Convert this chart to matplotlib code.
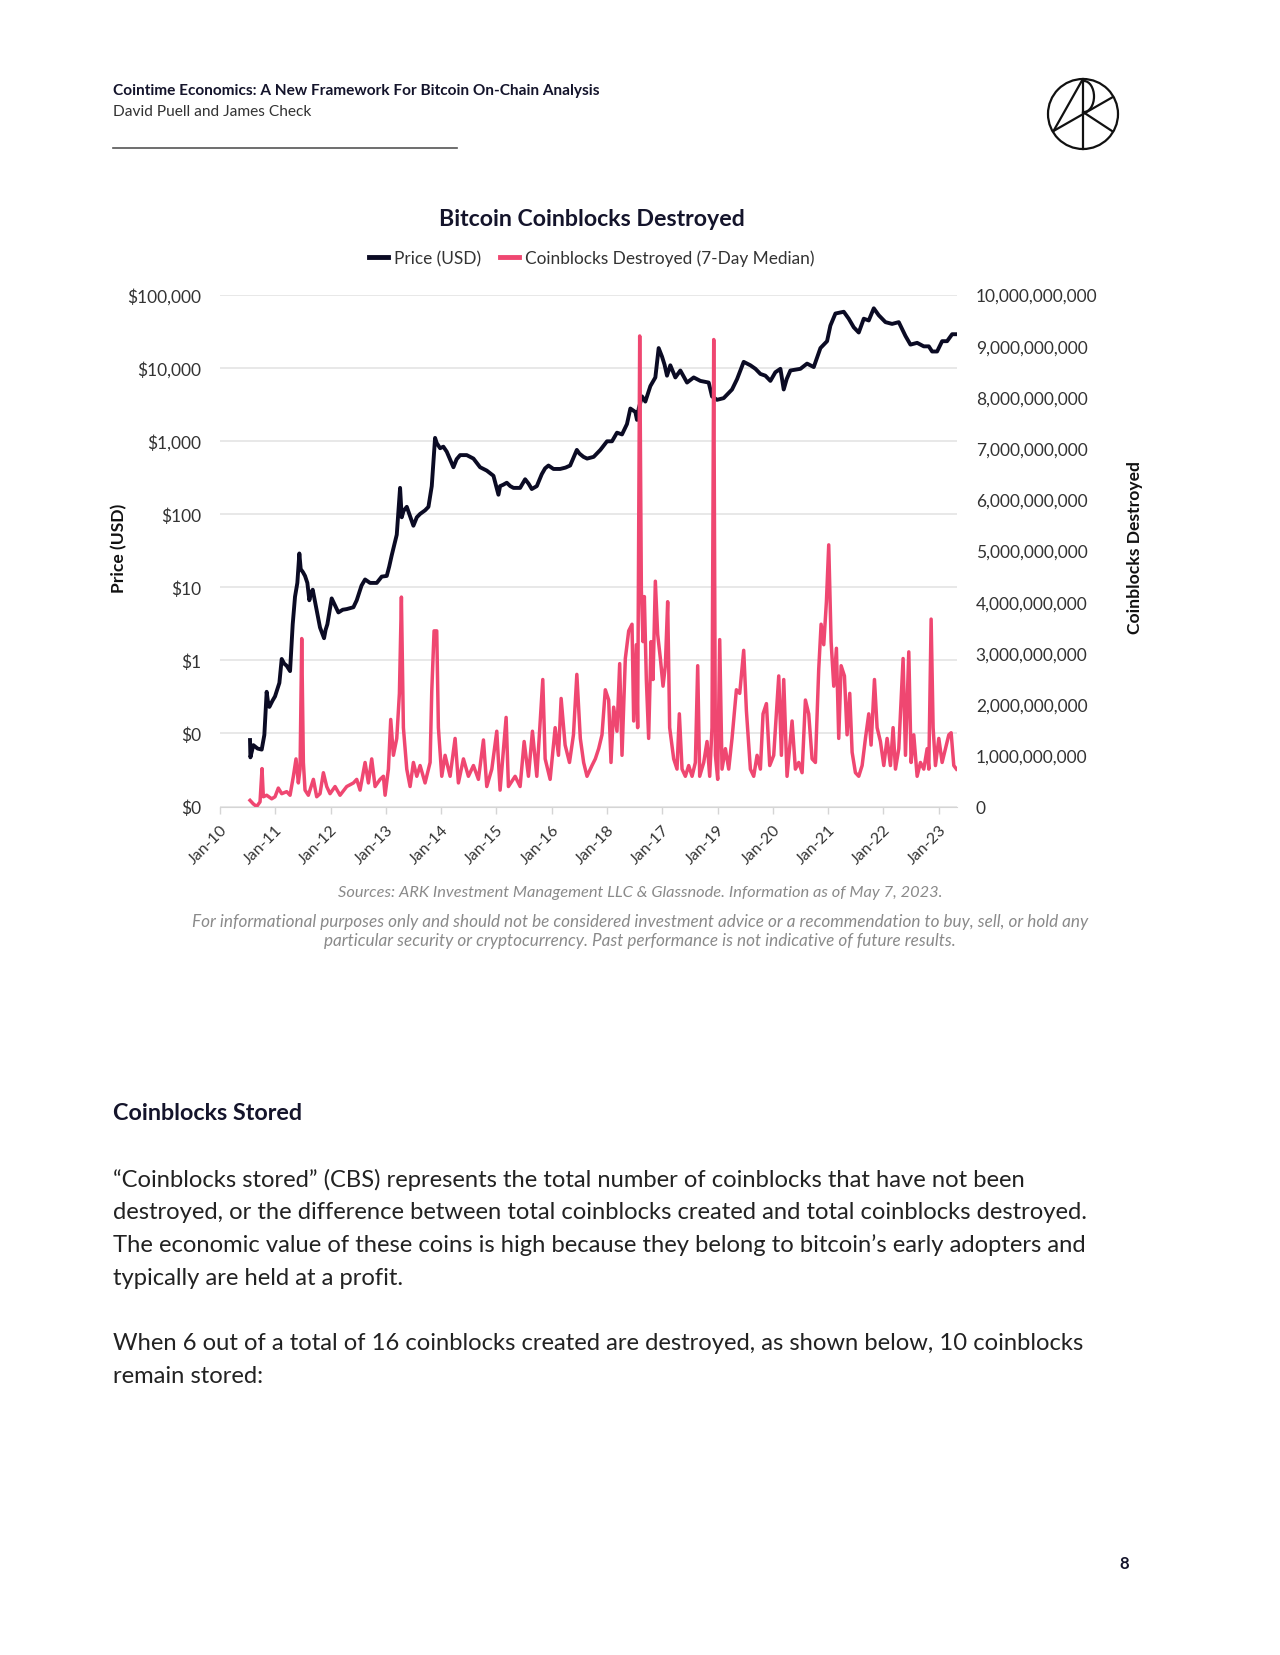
import matplotlib
matplotlib.use("Agg")
import matplotlib.pyplot as plt
from matplotlib.lines import Line2D
from matplotlib.patches import Circle, Arc

plt.rcParams['font.family'] = ['Lato', 'DejaVu Sans']

# --- data ---
price_year = [2010.543, 2010.550, 2010.603, 2010.680, 2010.754, 2010.802, 2010.844, 2010.870,
              2010.893, 2010.950, 2010.995, 2011.074, 2011.116, 2011.160, 2011.206, 2011.267,
              2011.315, 2011.357, 2011.399, 2011.435, 2011.460, 2011.500, 2011.538, 2011.580,
              2011.616, 2011.650, 2011.677, 2011.749, 2011.809, 2011.882, 2011.910, 2011.942,
              2012.020, 2012.081, 2012.141, 2012.220, 2012.292, 2012.413, 2012.473, 2012.560,
              2012.624, 2012.714, 2012.835, 2012.925, 2013.016, 2013.060, 2013.106, 2013.197,
              2013.257, 2013.287, 2013.320, 2013.378, 2013.498, 2013.560, 2013.619, 2013.709,
              2013.770, 2013.830, 2013.890, 2013.920, 2013.981, 2014.040, 2014.101, 2014.160,
              2014.222, 2014.280, 2014.343, 2014.463, 2014.584, 2014.704, 2014.825, 2014.946,
              2015.036, 2015.066, 2015.120, 2015.187, 2015.250, 2015.308, 2015.428, 2015.519,
              2015.580, 2015.639, 2015.730, 2015.820, 2015.880, 2015.941, 2016.031, 2016.152,
              2016.250, 2016.333, 2016.454, 2016.500, 2016.574, 2016.640, 2016.758, 2016.879,
              2017.000, 2017.090, 2017.180, 2017.271, 2017.361, 2017.422, 2017.512, 2017.542,
              2017.573, 2017.633, 2017.693, 2017.784, 2017.874, 2017.934, 2017.995, 2018.040,
              2018.085, 2018.145, 2018.236, 2018.326, 2018.447, 2018.568, 2018.688, 2018.839,
              2018.899, 2018.990, 2019.110, 2019.261, 2019.352, 2019.472, 2019.593, 2019.684,
              2019.774, 2019.864, 2019.955, 2020.045, 2020.136, 2020.196, 2020.250, 2020.317,
              2020.498, 2020.618, 2020.739, 2020.860, 2020.980, 2021.040, 2021.131, 2021.282,
              2021.372, 2021.463, 2021.553, 2021.644, 2021.734, 2021.825, 2021.915, 2022.036,
              2022.156, 2022.277, 2022.398, 2022.488, 2022.609, 2022.729, 2022.820, 2022.880,
              2022.970, 2023.061, 2023.151, 2023.242, 2023.332]
price_usd = [0.081, 0.047, 0.069, 0.062, 0.060, 0.095, 0.37, 0.26,
             0.23, 0.28, 0.32, 0.49, 1.04, 0.90, 0.84, 0.71,
             3.1, 7.4, 11.4, 28.8, 17.6, 16.0, 14.2, 11.4,
             6.6, 8.5, 9.2, 4.8, 2.8, 2.0, 2.6, 3.1,
             7.0, 5.6, 4.5, 4.9, 5.0, 5.3, 6.6, 10.5,
             12.7, 11.4, 11.4, 13.9, 14.2, 19.0, 27.2, 52,
             227, 90, 110, 125, 69, 90, 100, 112,
             125, 240, 1096, 931, 792, 830, 710, 560,
             435, 560, 637, 637, 571, 435, 391, 332,
             183, 240, 250, 267, 240, 227, 227, 298,
             260, 219, 240, 350, 420, 459, 412, 412,
             430, 459, 750, 670, 603, 571, 603, 750,
             984, 984, 1291, 1222, 1694, 2761, 2477, 1930,
             2761, 4045, 3436, 5598, 7345, 18520, 14125, 11000,
             7762, 10765, 7345, 9141, 6252, 7345, 6590, 6252,
             4045, 3631, 3831, 5027, 6966, 11995, 10765, 9638,
             8204, 7762, 6590, 8650, 9638, 5027, 7000, 9141,
             9638, 11350, 10186, 18520, 23010, 37580, 54950, 58070,
             46670, 35560, 30200, 46670, 44160, 64710, 52000, 41880,
             39630, 41880, 27100, 20650, 21830, 19550, 19550, 16630,
             16630, 23010, 23010, 28640, 28640]

cbd_year = [2010.543, 2010.603, 2010.663, 2010.724, 2010.760, 2010.784, 2010.844, 2010.935,
            2010.995, 2011.055, 2011.116, 2011.206, 2011.267, 2011.327, 2011.375, 2011.417,
            2011.448, 2011.478, 2011.508, 2011.538, 2011.598, 2011.689, 2011.749, 2011.809,
            2011.870, 2011.930, 2011.990, 2012.081, 2012.171, 2012.292, 2012.413, 2012.473,
            2012.533, 2012.624, 2012.684, 2012.744, 2012.805, 2012.895, 2012.955, 2012.986,
            2013.046, 2013.088, 2013.136, 2013.197, 2013.245, 2013.281, 2013.317, 2013.378,
            2013.438, 2013.498, 2013.559, 2013.619, 2013.709, 2013.800, 2013.830, 2013.872,
            2013.920, 2013.950, 2014.011, 2014.071, 2014.162, 2014.252, 2014.312, 2014.403,
            2014.493, 2014.584, 2014.674, 2014.765, 2014.825, 2014.916, 2015.006, 2015.066,
            2015.175, 2015.217, 2015.338, 2015.428, 2015.501, 2015.579, 2015.651, 2015.730,
            2015.838, 2015.881, 2015.971, 2016.062, 2016.122, 2016.170, 2016.242, 2016.321,
            2016.393, 2016.454,
            2016.517, 2016.577, 2016.638, 2016.728, 2016.788, 2016.849, 2016.909, 2016.969,
            2017.030, 2017.072, 2017.120, 2017.180, 2017.229, 2017.271, 2017.331, 2017.392,
            2017.452, 2017.482, 2017.530, 2017.554, 2017.591, 2017.621, 2017.651, 2017.675,
            2017.711, 2017.753, 2017.796, 2017.832, 2017.874, 2017.916, 2017.965, 2018.013,
            2018.055, 2018.097, 2018.133, 2018.206, 2018.266, 2018.308, 2018.357, 2018.417,
            2018.477, 2018.538, 2018.598, 2018.640, 2018.676, 2018.749, 2018.809, 2018.857,
            2018.899, 2018.930, 2018.960, 2019.002, 2019.038, 2019.080, 2019.141, 2019.201,
            2019.261, 2019.340, 2019.400, 2019.472, 2019.521, 2019.593, 2019.653, 2019.714,
            2019.774, 2019.822, 2019.883, 2019.943, 2020.015, 2020.106, 2020.154, 2020.196,
            2020.256, 2020.347, 2020.407, 2020.468, 2020.528, 2020.588, 2020.648, 2020.709,
            2020.769, 2020.829, 2020.872, 2020.920, 2020.968, 2021.010, 2021.053, 2021.101,
            2021.149, 2021.191, 2021.234, 2021.294, 2021.342, 2021.390, 2021.433, 2021.493,
            2021.553, 2021.614, 2021.674, 2021.734, 2021.776, 2021.837, 2021.885, 2021.945,
            2022.006, 2022.066, 2022.126, 2022.174, 2022.217, 2022.277, 2022.355, 2022.398,
            2022.458, 2022.500, 2022.548, 2022.609, 2022.669, 2022.729, 2022.790, 2022.820,
            2022.862, 2022.898, 2022.940, 2023.001, 2023.061, 2023.121, 2023.182, 2023.224,
            2023.272, 2023.320]
cbd_bn = [0.12, 0.05, 0.00, 0.09, 0.74, 0.19, 0.22, 0.15,
          0.19, 0.36, 0.25, 0.29, 0.22, 0.59, 0.93, 0.46,
          0.73, 3.28, 0.86, 0.32, 0.22, 0.53, 0.19, 0.25,
          0.66, 0.39, 0.25, 0.39, 0.22, 0.39, 0.46, 0.53,
          0.32, 0.86, 0.46, 0.93, 0.39, 0.53, 0.59, 0.22,
          0.73, 1.70, 1.00, 1.33, 2.21, 4.09, 1.54, 0.73,
          0.39, 0.86, 0.59, 0.80, 0.46, 0.86, 2.25, 3.43,
          3.43, 1.54, 0.59, 1.00, 0.59, 1.33, 0.46, 0.93,
          0.59, 0.80, 0.53, 1.30, 0.39, 0.73, 1.47, 0.32,
          1.74, 0.39, 0.59, 0.39, 1.27, 0.59, 1.47, 0.59,
          2.48, 0.93, 0.53, 1.54, 1.00, 2.11, 1.20, 0.86,
          1.40, 2.58,
          1.33, 0.86, 0.59, 0.80, 0.93, 1.13, 1.40, 2.28,
          2.08, 0.86, 1.94, 1.47, 2.79, 1.00, 2.89, 3.43,
          3.56, 1.67, 3.16, 1.54, 9.19, 4.23, 3.22, 4.10,
          2.48, 1.33, 3.22, 2.48, 4.40, 3.36, 2.89, 2.35,
          2.75, 4.00, 1.54, 0.93, 0.73, 1.81, 0.73, 0.59,
          0.80, 0.59, 0.86, 2.75, 0.59, 0.86, 1.27, 0.59,
          1.54, 9.12, 1.00, 0.53, 3.26, 0.73, 1.13, 0.73,
          1.33, 2.28, 2.21, 3.05, 1.87, 0.73, 0.59, 1.00,
          0.73, 1.81, 2.01, 0.80, 1.00, 2.55, 1.00, 2.48,
          0.59, 1.67, 0.73, 0.86, 0.66, 2.08, 1.81, 0.93,
          0.86, 2.68, 3.56, 3.16, 4.00, 5.11, 3.22, 2.35,
          3.09, 1.33, 2.75, 2.55, 1.40, 2.21, 1.06, 0.66,
          0.59, 0.80, 1.33, 1.81, 1.20, 2.48, 1.54, 1.27,
          0.80, 1.33, 0.80, 1.54, 0.73, 1.13, 2.89, 1.00,
          3.02, 0.86, 1.40, 0.59, 0.86, 0.73, 1.13, 0.73,
          3.66, 1.54, 0.80, 1.33, 0.86, 1.13, 1.40, 1.44,
          0.80, 0.73]

tick_years = list(range(2010, 2024))
tick_labels = ['Jan-10', 'Jan-11', 'Jan-12', 'Jan-13', 'Jan-14', 'Jan-15', 'Jan-16',
               'Jan-18', 'Jan-17', 'Jan-19', 'Jan-20', 'Jan-21', 'Jan-22', 'Jan-23']
price_ticks = [0.01, 0.1, 1, 10, 100, 1000, 10000, 100000]
price_labels = ['$0', '$0', '$1', '$10', '$100', '$1,000', '$10,000', '$100,000']
cbd_ticks = list(range(0, 11))

body_lines = [
    "\u201cCoinblocks stored\u201d (CBS) represents the total number of coinblocks that have not been",
    "destroyed, or the difference between total coinblocks created and total coinblocks destroyed.",
    "The economic value of these coins is high because they belong to bitcoin\u2019s early adopters and",
    "typically are held at a profit.",
]
body_lines2 = [
    "When 6 out of a total of 16 coinblocks created are destroyed, as shown below, 10 coinblocks",
    "remain stored:",
]

BLACK = '#0b0b24'
RED = '#ef4771'
W, H = 1280, 1656

fig = plt.figure(figsize=(W / 100, H / 100), dpi=100)
fig.patch.set_facecolor('white')


def fx(x):
    return x / W


def fy(y):
    return 1 - y / H


# page decorations drawn in pixel space
bg = fig.add_axes([0, 0, 1, 1])
bg.set_xlim(0, W)
bg.set_ylim(H, 0)
bg.axis('off')

fig.text(fx(113), fy(91), "Cointime Economics: A New Framework For Bitcoin On-Chain Analysis",
         fontsize=11.1, fontweight='bold', color='#14142b', va='center')
fig.text(fx(113), fy(112), "David Puell and James Check", fontsize=11.2, color='#333333',
         va='center')
bg.plot([113, 457], [149, 149], color='#555555', lw=1.2)

# ARK logo
bg.add_patch(Circle((1083, 115), 35, fill=False, ec='#111111', lw=1.6))
bg.plot([1083, 1083], [80, 150], color='#111111', lw=1.6)
bg.plot([1082, 1053.5], [81.5, 132], color='#111111', lw=1.6)
bg.plot([1053.5, 1112], [132, 98.5], color='#111111', lw=1.6)
bg.plot([1083, 1112], [113, 132], color='#111111', lw=1.6)
bg.add_patch(Arc((1084, 97.5), 20, 31, theta1=-90, theta2=90, ec='#111111', lw=1.6))

# chart
ax = fig.add_axes([fx(220), fy(807.5), (957 - 220) / W, (807.5 - 295.5) / H])
ax.semilogy(price_year, price_usd, color=BLACK, lw=2.8, solid_joinstyle='round')
ax.set_ylim(0.01, 100000)
ax.set_xlim(2010.0, 2023.33)
ax.set_yticks(price_ticks)
ax.set_yticklabels(price_labels)
ax.yaxis.set_minor_locator(matplotlib.ticker.NullLocator())
ax.grid(axis='y', color='#e6e6e6', lw=1.3)
ax.set_axisbelow(True)
ax.set_xticks(tick_years)
ax.set_xticklabels(tick_labels, rotation=45, ha='right', rotation_mode='anchor')
ax.tick_params(axis='x', length=5, width=1, color='#d5d5d5', labelsize=11.5,
               labelcolor='#333333', pad=6)
ax.tick_params(axis='y', length=0, labelsize=12.5, labelcolor='#333333', pad=13.5)
for s in ['top', 'right', 'left']:
    ax.spines[s].set_visible(False)
ax.spines['bottom'].set_color('#d5d5d5')

ax2 = ax.twinx()
ax2.plot(cbd_year, cbd_bn, color=RED, lw=2.5, solid_joinstyle='round')
ax2.set_ylim(0, 10)
ax2.set_yticks(cbd_ticks)
ax2.set_yticklabels([f"{v * 1e9:,.0f}" for v in cbd_ticks])
ax2.tick_params(axis='y', length=0, labelsize=12.5, labelcolor='#333333', pad=13.5)
for s in ax2.spines.values():
    s.set_visible(False)

fig.text(fx(119), fy(548), "Price (USD)", fontsize=12.6, fontweight='bold', color='#111111',
         rotation=90, ha='center', va='center')
fig.text(fx(1135), fy(548), "Coinblocks Destroyed", fontsize=12.6, fontweight='bold',
         color='#111111', rotation=90, ha='center', va='center')

fig.text(fx(592), fy(220), "Bitcoin Coinblocks Destroyed", fontsize=16.7, fontweight='bold',
         color='#14142b', ha='center', va='center')
handles = [Line2D([], [], color=BLACK, lw=3.5), Line2D([], [], color=RED, lw=3.5)]
fig.legend(handles, ["Price (USD)", "Coinblocks Destroyed (7-Day Median)"], loc='center',
           bbox_to_anchor=(fx(592), fy(259)), ncol=2, frameon=False, fontsize=12.4,
           handlelength=1.1, handletextpad=0.35, columnspacing=1.1, labelcolor='#333333')

fig.text(fx(640), fy(893),
         "Sources: ARK Investment Management LLC & Glassnode. Information as of May 7, 2023.",
         fontsize=11.8, style='italic', color='#8a8a8a', ha='center', va='center')
fig.text(fx(640), fy(922),
         "For informational purposes only and should not be considered investment advice or a "
         "recommendation to buy, sell, or hold any",
         fontsize=12.3, style='italic', color='#8a8a8a', ha='center', va='center')
fig.text(fx(640), fy(941),
         "particular security or cryptocurrency. Past performance is not indicative of future results.",
         fontsize=12.3, style='italic', color='#8a8a8a', ha='center', va='center')

fig.text(fx(113), fy(1114), "Coinblocks Stored", fontsize=16.8, fontweight='bold',
         color='#14142b', va='center')
for i, line in enumerate(body_lines):
    fig.text(fx(113), fy(1180 + i * 32.7), line, fontsize=17.1, color='#222222', va='center')
for i, line in enumerate(body_lines2):
    fig.text(fx(113), fy(1344 + i * 32.7), line, fontsize=17.1, color='#222222', va='center')

fig.text(fx(1124), fy(1564), "8", fontsize=12, fontweight='bold', color='#14142b',
         ha='center', va='center')

fig.savefig("out.png", dpi=100, facecolor='white')
